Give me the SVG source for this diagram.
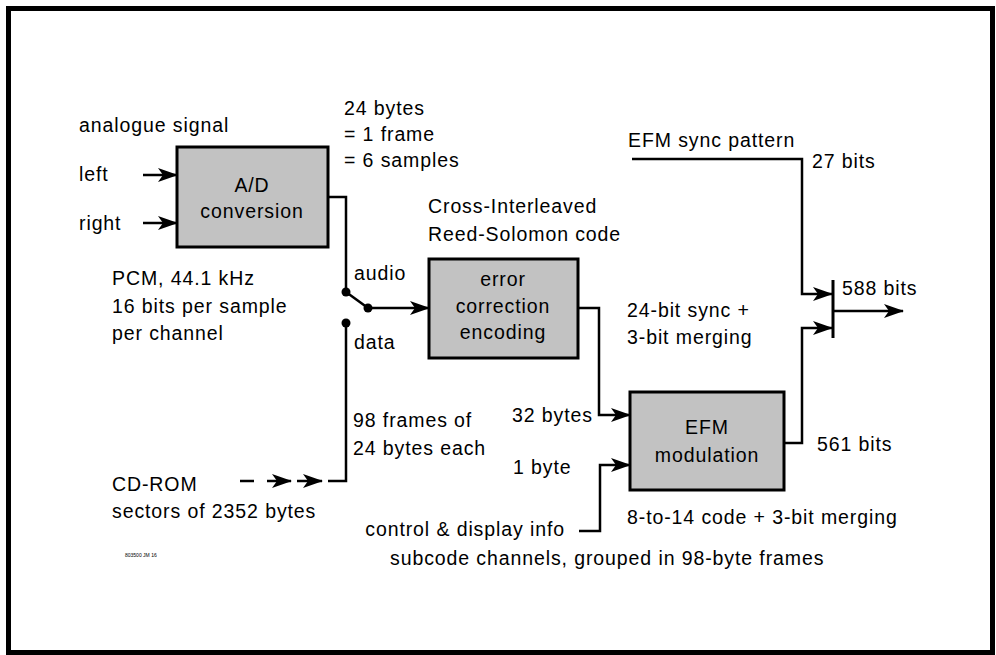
<svg xmlns="http://www.w3.org/2000/svg" width="996" height="655" viewBox="0 0 996 655">
<style>
text{font-family:"Liberation Sans",Arial,sans-serif;font-size:19.5px;letter-spacing:0.9px;fill:#000}
.c{text-anchor:middle}
.box{fill:#c2c2c2;stroke:#000;stroke-width:3}
.ln{fill:none;stroke:#000;stroke-width:2.5}
.ar{marker-end:url(#ah)}
.dot{fill:#000}
.tiny{font-size:5px;letter-spacing:0}
</style>
<defs>
<marker id="ah" markerUnits="userSpaceOnUse" markerWidth="20" markerHeight="14" viewBox="0 0 20 14" refX="19" refY="7" orient="auto">
<path d="M0,0 L20,7 L0,14 L5,7 Z" fill="#000"/>
</marker>
</defs>
<rect x="8.5" y="8.5" width="984" height="644" fill="#fff" stroke="#000" stroke-width="5"/>

<g id="connectors">
<path class="ln ar" d="M143,175 H177"/>
<path class="ln ar" d="M143,223 H177"/>
<path class="ln" d="M328,197 H346 V292"/>
<path class="ln" d="M346,292 L368,308"/>
<path class="ln ar" d="M368,308 H429"/>
<path class="ln" d="M346,323 V481 H328"/>
<path class="ln" d="M240,481 H254"/>
<path class="ln ar" d="M267,481 H291"/>
<path class="ln ar" d="M297,481 H322"/>
<path class="ln ar" d="M578,308 H599 V415 H630"/>
<path class="ln ar" d="M579,531 H600 V465 H630"/>
<path class="ln ar" d="M784,443 H802 V328 H832"/>
<path class="ln ar" d="M632,159 H802 V294 H832"/>
<path class="ln" style="stroke-width:3" d="M833,280 V338"/>
<path class="ln ar" d="M833,311 H903"/>
<circle class="dot" cx="346" cy="292" r="4.5"/>
<circle class="dot" cx="368" cy="308" r="4.5"/>
<circle class="dot" cx="346" cy="323" r="4.5"/>
</g>

<g id="ad">
<rect class="box" x="177" y="147" width="151" height="100"/>
<text class="c" x="252" y="192">A/D</text>
<text class="c" x="252" y="218">conversion</text>
</g>
<g id="ecc">
<rect class="box" x="429" y="259" width="149" height="99"/>
<text class="c" x="503" y="286">error</text>
<text class="c" x="503" y="313">correction</text>
<text class="c" x="503" y="339">encoding</text>
</g>
<g id="efm">
<rect class="box" x="630" y="392" width="154" height="98"/>
<text class="c" x="707" y="434">EFM</text>
<text class="c" x="707" y="462">modulation</text>
</g>

<g id="labels">
<text x="79" y="132">analogue signal</text>
<text x="79" y="181">left</text>
<text x="79" y="230">right</text>
<text x="112" y="285">PCM, 44.1 kHz</text>
<text x="112" y="313">16 bits per sample</text>
<text x="112" y="340">per channel</text>
<text x="344" y="115">24 bytes</text>
<text x="344" y="141">= 1 frame</text>
<text x="344" y="167">= 6 samples</text>
<text x="428" y="213">Cross-Interleaved</text>
<text x="428" y="241">Reed-Solomon code</text>
<text x="354" y="280">audio</text>
<text x="354" y="349">data</text>
<text x="628" y="147">EFM sync pattern</text>
<text x="812" y="168">27 bits</text>
<text x="627" y="317">24-bit sync +</text>
<text x="627" y="344">3-bit merging</text>
<text x="842" y="295">588 bits</text>
<text x="817" y="451">561 bits</text>
<text x="512" y="422">32 bytes</text>
<text x="513" y="474">1 byte</text>
<text x="353" y="427">98 frames of</text>
<text x="353" y="455">24 bytes each</text>
<text x="112" y="491">CD-ROM</text>
<text x="112" y="518">sectors of 2352 bytes</text>
<text x="565" y="536" style="text-anchor:end">control &amp; display info</text>
<text x="390" y="565">subcode channels, grouped in 98-byte frames</text>
<text x="627" y="524">8-to-14 code + 3-bit merging</text>
<text class="tiny" x="125" y="557">803500 JM 16</text>
</g>
</svg>
